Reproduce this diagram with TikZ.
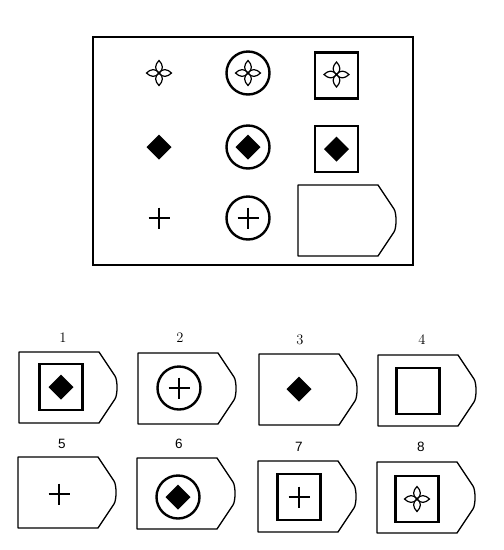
\documentclass[tikz,border=0pt]{standalone}
\usepackage{fontspec}
\newfontfamily\sansdigits{Liberation Sans}
\begin{document}
\begin{tikzpicture}[x=1pt,y=-1pt,
  thinline/.style={line width=1.3pt},
  thickline/.style={line width=2.4pt},
  lbl/.style={font=\fontsize{14.5}{16}\selectfont, inner sep=0pt},
  lbls/.style={font=\sansdigits\fontsize{13.5}{16}\selectfont, inner sep=0pt},
  tagshape/.pic={
    \draw[thinline, line join=round] (0,0) -- (80,0) -- (96,24)
      .. controls (98.7,28.1) and (98.7,42.9) .. (96,47)
      -- (80,71) -- (0,71) -- cycle;
  },
  starshape/.pic={
    \foreach \a in {0,90,180,270}{
      \draw[line width=1.2pt, rotate=\a] (0,0) .. controls (5,-3.5) and (4,-8.5) .. (0,-12.5)
        .. controls (-4,-8.5) and (-5,-3.5) .. (0,0);
    }
  },
  diamondshape/.pic={
    \fill[black] (0,-12.5) -- (12.5,0) -- (0,12.5) -- (-12.5,0) -- cycle;
  },
  plusshape/.pic={
    \draw[line width=1.7pt] (-10.5,0) -- (10.5,0) (0,-10.5) -- (0,10.5);
  },
  ringshape/.pic={
    \draw[thickline] (0,0) circle[radius=21.5];
  },
  boxshape/.pic={
    \draw[thickline] (-21.5,-23) rectangle (21.5,23);
  }
]
\useasboundingbox (0,0) rectangle (504,550);
\fill[white] (0,0) rectangle (504,550);

% main frame
\draw[line width=1.4pt] (93,37) rectangle (413,265);

% row 1
\pic at (159,73) {starshape};
\pic at (248,73) {ringshape};
\pic at (248,73) {starshape};
\pic at (336.5,75.5) {boxshape};
\pic at (336.5,74.5) {starshape};
% row 2
\pic at (159,147) {diamondshape};
\pic at (248,147) {ringshape};
\pic at (248,147) {diamondshape};
\pic at (336.5,149) {boxshape};
\pic at (336.5,149) {diamondshape};
% row 3
\pic at (159,218) {plusshape};
\pic at (248,218) {ringshape};
\pic at (248,218) {plusshape};
\pic at (298,185) {tagshape};

% answers
\node[lbl] (l1) at (63,338) {1};
\pic at (19,352) {tagshape};
\pic at (61,387) {boxshape};
\pic at (61,387) {diamondshape};

\node[lbl] (l2) at (180,338) {2};
\pic at (138,353) {tagshape};
\pic at (179,388) {ringshape};
\pic at (179,388) {plusshape};

\node[lbl] (l3) at (300,340) {3};
\pic at (259,354) {tagshape};
\pic at (299,389) {diamondshape};

\node[lbl] (l4) at (422,340) {4};
\pic at (378,355) {tagshape};
\pic at (418,391) {boxshape};

\node[lbls] (l5) at (62,444) {5};
\pic at (18,457) {tagshape};
\pic at (59,494) {plusshape};

\node[lbls] (l6) at (179,444) {6};
\pic at (137,458) {tagshape};
\pic at (178,497) {ringshape};
\pic at (178,497) {diamondshape};

\node[lbls] (l7) at (299,447) {7};
\pic at (258,461) {tagshape};
\pic at (299,497) {boxshape};
\pic at (299,497) {plusshape};

\node[lbls] (l8) at (421,447) {8};
\pic at (377,462) {tagshape};
\pic at (417,499) {boxshape};
\pic at (417,499) {starshape};
\end{tikzpicture}
\end{document}
